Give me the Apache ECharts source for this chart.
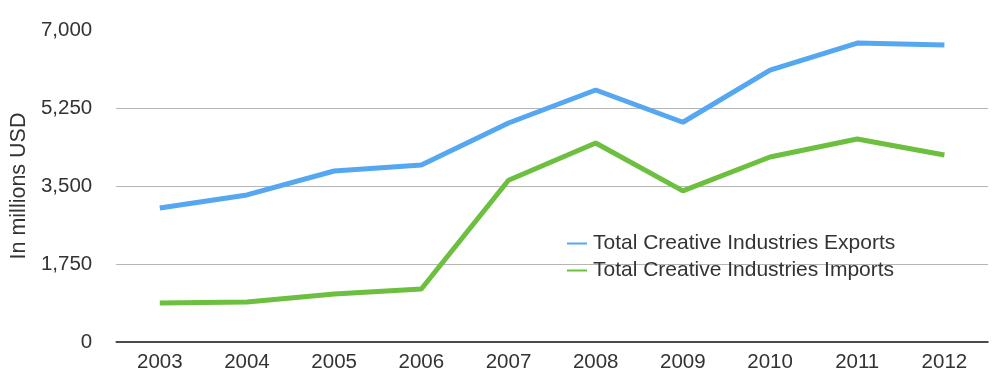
<!DOCTYPE html>
<html><head><meta charset="utf-8">
<script src="https://cdn.jsdelivr.net/npm/echarts@6/dist/echarts.min.js"></script>
<style>html,body{margin:0;padding:0;background:#fff}#c{width:999px;height:388px}</style>
</head><body><div id="c"></div>
<script>
const years = ['2003','2004','2005','2006','2007','2008','2009','2010','2011','2012'];
const exportsVals = [3006, 3300, 3837, 3971, 4913, 5654, 4930, 6100, 6708, 6663];
const importsVals = [875, 897, 1077, 1189, 3630, 4465, 3390, 4150, 4554, 4195];
const yTicks = [0, 1750, 3500, 5250, 7000];
const fontFam = '"Liberation Sans", Arial, Helvetica, sans-serif';
const chart = echarts.init(document.getElementById('c'));
chart.setOption({
  animation: false,
  grid: {left: 114, right: 11, top: 30, bottom: 46, containLabel: false},
  legend: {
    orient: 'vertical', left: 562, top: 228, itemWidth: 20, itemHeight: 2, itemGap: 6,
    icon: 'rect',
    textStyle: {fontFamily: fontFam, fontSize: 21, color: '#333', lineHeight: 20, padding: [0,0,0,1]},
    data: ['Total Creative Industries Exports', 'Total Creative Industries Imports']
  },
  xAxis: {
    type: 'category', data: years, boundaryGap: true,
    axisLine: {show: true, lineStyle: {color: '#111', width: 1.5}},
    axisTick: {show: false},
    axisLabel: {fontFamily: fontFam, fontSize: 20.5, color: '#333', margin: 10}
  },
  yAxis: {
    type: 'value', min: 0, max: 7000, interval: 1750,
    name: 'In millions USD', nameLocation: 'middle', nameGap: 86, nameRotate: 90,
    nameTextStyle: {fontFamily: fontFam, fontSize: 21.5, color: '#333'},
    axisLine: {show: false}, axisTick: {show: false},
    axisLabel: {fontFamily: fontFam, fontSize: 20.5, color: '#333', margin: 24,
      formatter: v => yTicks.includes(v) ? v.toLocaleString('en-US') : ''},
    splitLine: {show: true, showMinLine: false, showMaxLine: false, lineStyle: {color: '#b5b5b5', width: 1}}
  },
  series: [
    {name: 'Total Creative Industries Exports', type: 'line', data: exportsVals,
     symbol: 'none', lineStyle: {color: '#55a7f2', width: 5}, itemStyle: {color: '#55a7f2'}},
    {name: 'Total Creative Industries Imports', type: 'line', data: importsVals,
     symbol: 'none', lineStyle: {color: '#6cbf3f', width: 5}, itemStyle: {color: '#6cbf3f'}}
  ]
});
</script></body></html>
